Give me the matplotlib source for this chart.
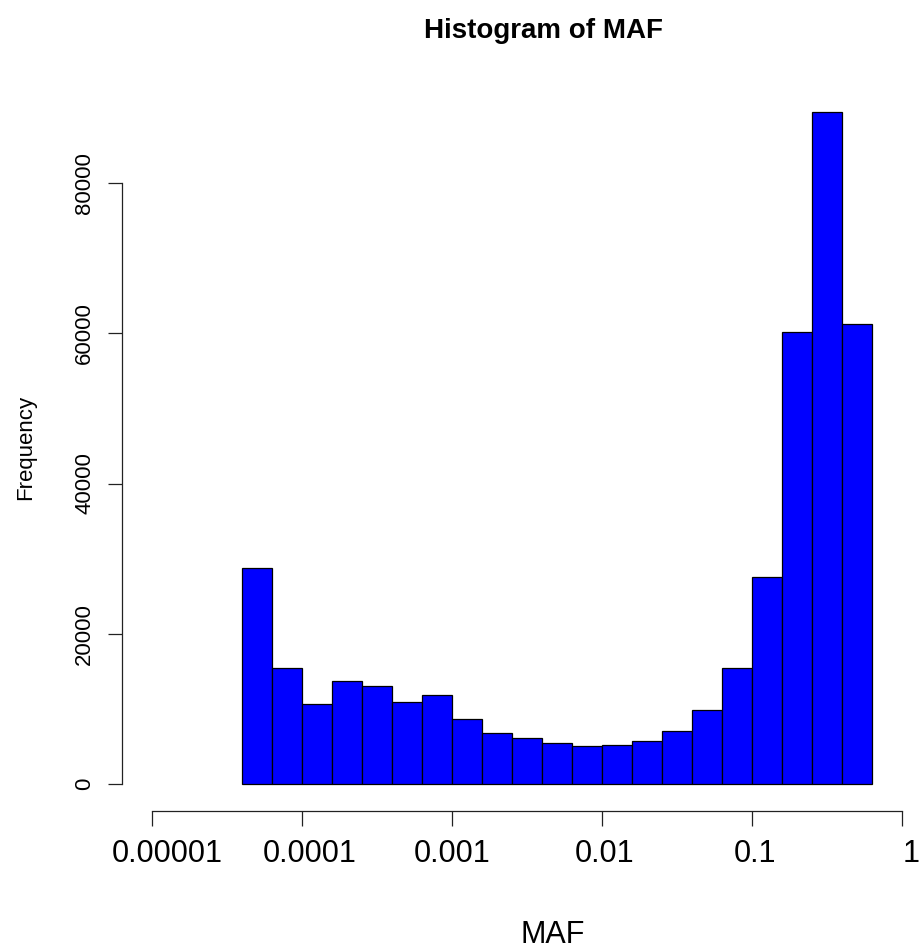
import matplotlib
matplotlib.use("Agg")
import matplotlib.pyplot as plt
from matplotlib.ticker import NullLocator
from matplotlib.transforms import ScaledTranslation

plt.rcParams['font.family'] = ['Liberation Sans', 'DejaVu Sans']

# ---- data ----
log_bin_edges = [-4.4, -4.2, -4.0, -3.8, -3.6, -3.4, -3.2, -3.0, -2.8, -2.6, -2.4,
                 -2.2, -2.0, -1.8, -1.6, -1.4, -1.2, -1.0, -0.8, -0.6, -0.4, -0.2]
counts = [28800, 15450, 10700, 13700, 13100, 10950, 11800, 8650, 6830, 6150, 5480,
          5080, 5200, 5750, 7050, 9900, 15400, 27600, 60200, 89500, 61200]
x_ticks = [1e-5, 1e-4, 1e-3, 1e-2, 1e-1, 1]
x_tick_labels = ["0.00001", "0.0001", "0.001", "0.01", "0.1", "1"]
y_ticks = [0, 20000, 40000, 60000, 80000]
y_tick_labels = ["0", "20000", "40000", "60000", "80000"]
title = "Histogram of MAF"
x_label = "MAF"
y_label = "Frequency"

W, H = 922, 949
fig = plt.figure(figsize=(W / 100, H / 100), dpi=100)
PT = 72 / 100  # points per pixel at dpi 100

# axes placement (pixels)
left_px, right_px = 152, 902.3
bottom_px = 784
ymax = 90000
px_per_unit = 601.0 / 80000
top_px = bottom_px - ymax * px_per_unit
ax = fig.add_axes([left_px / W, (H - bottom_px) / H,
                   (right_px - left_px) / W, (bottom_px - top_px) / H])
ax.patch.set_alpha(0)

ax.set_xscale('log')
ax.set_xlim(1e-5, 1)
ax.set_ylim(0, ymax)

lefts = [10 ** e for e in log_bin_edges[:-1]]
widths = [10 ** b - 10 ** a for a, b in zip(log_bin_edges[:-1], log_bin_edges[1:])]
ax.bar(lefts, counts, width=widths, align='edge', color='#0000FF',
       edgecolor='black', linewidth=0.9, clip_on=False)

axis_col = '#222222'
for s in ['top', 'right']:
    ax.spines[s].set_visible(False)
ax.spines['left'].set_position(('outward', 30 * PT))
ax.spines['left'].set_bounds(0, 80000)
ax.spines['bottom'].set_position(('outward', 27 * PT))
ax.spines['bottom'].set_bounds(1e-5, 1)
for s in ['left', 'bottom']:
    ax.spines[s].set_color(axis_col)
    ax.spines[s].set_linewidth(0.9)

ax.xaxis.set_minor_locator(NullLocator())
ax.set_xticks(x_ticks)
ax.set_xticklabels(x_tick_labels, fontsize=22)
ax.set_yticks(y_ticks)
ax.set_yticklabels(y_tick_labels, fontsize=16)
ax.tick_params(axis='x', length=14.7 * PT, width=0.9, color=axis_col, pad=13.5 * PT)
ax.tick_params(axis='y', length=14 * PT, width=0.9, color=axis_col, pad=13 * PT, labelrotation=90)
for lab in ax.get_yticklabels():
    lab.set_va('center')

# small horizontal shifts of x tick labels as seen in the reference (pixels)
label_shift_px = [15, 7.6, 0.5, 2, 3, 9]
for lab, dx in zip(ax.get_xticklabels(), label_shift_px):
    lab.set_transform(lab.get_transform() + ScaledTranslation(dx / 100, 0, fig.dpi_scale_trans))

fig.text(543 / W, 1 - 38 / H, title, ha='center', va='baseline', fontsize=20, weight='bold')
fig.text(553 / W, 1 - 943 / H, x_label, ha='center', va='baseline', fontsize=22)
fig.text(25.5 / W, 1 - 447 / H, y_label, ha='center', va='center', rotation=90, fontsize=16)

fig.savefig('out.png', dpi=100, facecolor='white')
